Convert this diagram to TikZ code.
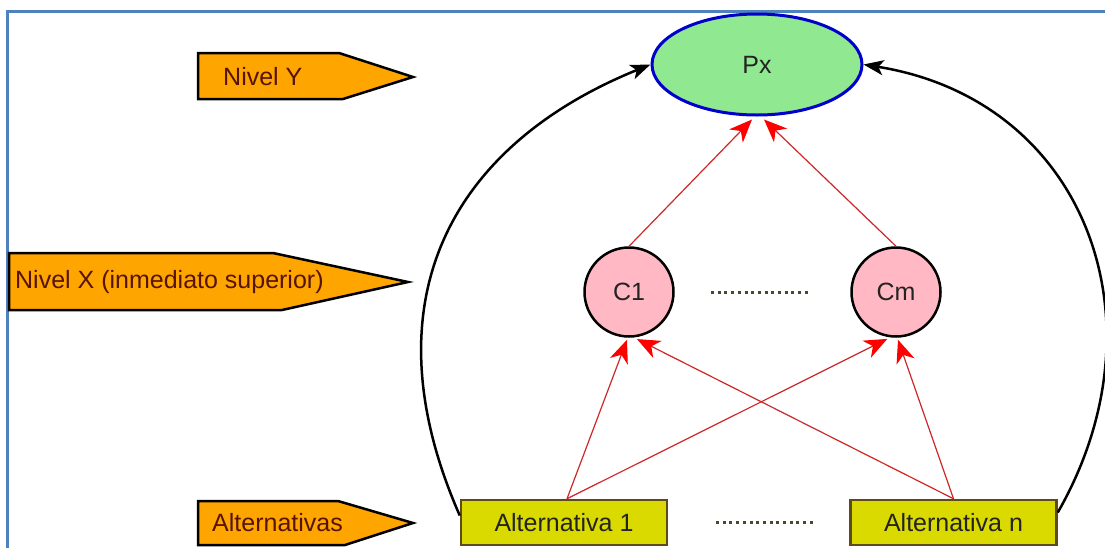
\documentclass[tikz,border=0pt]{standalone}
\usepackage{fontspec}
\setmainfont{Liberation Sans}
\usetikzlibrary{arrows.meta,shapes.geometric}
\definecolor{frameblue}{RGB}{79,129,189}
\definecolor{lvlorange}{RGB}{255,165,0}
\definecolor{lvltext}{RGB}{85,20,5}
\definecolor{pxgreen}{RGB}{144,232,144}
\definecolor{pxblue}{RGB}{0,0,205}
\definecolor{cpink}{RGB}{255,184,196}
\definecolor{altyellow}{RGB}{218,218,0}
\definecolor{altborder}{RGB}{95,75,25}
\definecolor{dotcol}{RGB}{75,72,45}
\definecolor{redline}{RGB}{205,40,40}
\definecolor{nodetext}{RGB}{35,35,35}
\begin{document}
\begin{tikzpicture}[x=1pt,y=-1pt,
  every node/.style={font=\fontsize{25}{29}\selectfont,text=nodetext},
  lvlshape/.style={draw=black,line width=2.5pt,fill=lvlorange,line join=miter},
  lvltxt/.style={text=lvltext,anchor=west,inner sep=0pt},
  goal/.style={ellipse,draw=pxblue,line width=3pt,fill=pxgreen,minimum width=210pt,minimum height=101pt,inner sep=0pt},
  crit/.style={circle,draw=black,line width=2.5pt,fill=cpink,minimum size=89pt,inner sep=0pt},
  alt/.style={rectangle,draw=altborder,line width=2.5pt,fill=altyellow,minimum width=206pt,minimum height=45pt,inner sep=0pt},
  redarrow/.style={draw=redline,line width=1.2pt,-{Stealth[length=23pt,width=19pt,inset=7pt,fill=red,color=red]}},
  blackarrow/.style={draw=black,line width=2.5pt,-{Stealth[length=20pt,width=15pt,inset=5pt]}},
  dotline/.style={draw=dotcol,line width=3pt,dash pattern=on 3pt off 3.7pt}
]
\useasboundingbox (0,0) rectangle (1105,547);
\clip (0,0) rectangle (1105,547);
\fill[white] (0,0) rectangle (1105,547);
% frame
\draw[frameblue,line width=3pt] (7,560) -- (7,11) -- (1120,11);

% level markers
\draw[lvlshape] (198,53) -- (339,53) -- (413,77) -- (343,99) -- (198,99) -- cycle;
\node[lvltxt] (ny) at (223,77) {Nivel Y};
\draw[lvlshape] (9,253) -- (273,253) -- (408,282) -- (282,310) -- (9,310) -- cycle;
\node[lvltxt] (nx) at (15,282) {Nivel X (inmediato superior)};
\draw[lvlshape] (198,501) -- (338,501) -- (413,523) -- (345,545) -- (198,545) -- cycle;
\node[lvltxt] (na) at (212,523) {Alternativas};

% nodes
\node[goal] (px) at (757,64.5) {Px};
\node[crit] (c1) at (629,292) {C1};
\node[crit] (cm) at (896,292) {Cm};
\node[alt] (a1) at (564,522.5) {Alternativa 1};
\node[alt] (an) at (953.5,522.5) {Alternativa n};

% dotted separators
\coordinate (d1s) at (711,292);
\coordinate (d1e) at (811,292);
\draw[dotline] (d1s) -- (d1e);
\coordinate (d2s) at (716,522);
\coordinate (d2e) at (816,522);
\draw[dotline] (d2s) -- (d2e);

% red arrows
\draw[redarrow] (c1.north) -- ([xshift=-5pt,yshift=-3pt]px.south);
\draw[redarrow] (cm.north) -- ([xshift=7pt,yshift=-3pt]px.south);
\draw[redarrow] ([xshift=3pt]a1.north) -- ([xshift=-2pt,yshift=-2pt]c1.south);
\draw[redarrow] ([xshift=3pt]a1.north) -- ([yshift=-2pt]cm.-101);
\draw[redarrow] (an.north) -- ([yshift=-2pt]c1.-80);
\draw[redarrow] (an.north) -- ([xshift=2pt,yshift=-2pt]cm.south);

% black arcs
\draw[blackarrow] ([yshift=7pt]a1.west) .. controls (365,300) and (452,145) .. (px.west);
\draw[blackarrow] ([yshift=10pt]an.east) .. controls (1168,320) and (1085,100) .. (px.east);
\end{tikzpicture}
\end{document}
